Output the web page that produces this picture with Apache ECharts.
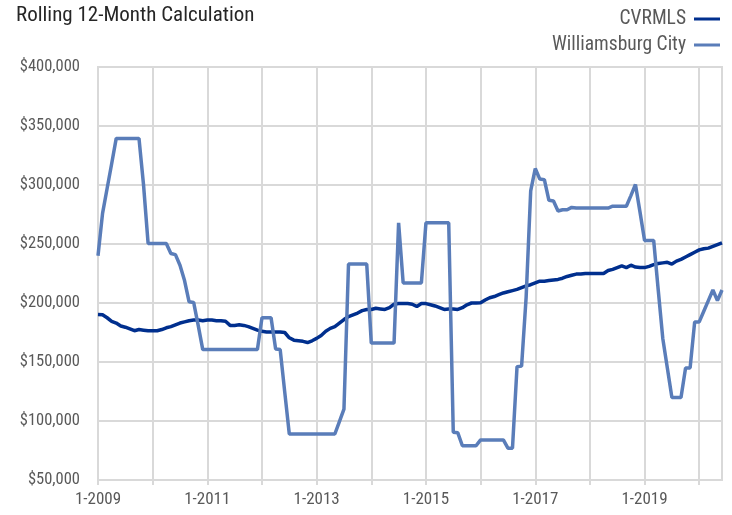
<!DOCTYPE html>
<html>
<head>
<meta charset="utf-8">
<script src="https://cdn.jsdelivr.net/npm/echarts@6/dist/echarts.min.js"></script>
<style>
  html, body { margin: 0; padding: 0; background: #fff; }
  #chart { width: 732px; height: 515px; }
</style>
</head>
<body>
<div id="chart"></div>
<script>
// monthly, Jan 2009 .. Jun 2020
const startYear = 2009;
const monthCount = 138;

// values in thousands of dollars
const cvrmls = [
  190.2, 190, 187.5, 184.5, 183, 180.5, 179.5, 178, 176.5, 177.5, 177, 176.5,
  176.5, 176.5, 177.5, 179, 180, 181.5, 183, 184, 185, 185.5, 185.5, 185,
  185.5, 185.5, 185, 185, 184.5, 181, 181, 181.5, 181, 180, 178.5, 177,
  176, 175.5, 175.5, 175.5, 175.5, 175, 170.5, 168.5, 168, 167.5, 166.5, 168,
  170, 172.5, 176, 178.5, 180, 183, 186, 188.5, 190, 191.5, 193.5, 194.5,
  194.5, 195.5, 195, 194.5, 196, 199, 199.5, 199.5, 199.5, 199, 197, 199.5,
  199.5, 198.5, 197.5, 196, 194.5, 195, 195, 194.5, 196, 198.5, 200, 200,
  200.2, 202.5, 204.5, 205.5, 207, 208.5, 209.5, 210.5, 211.5, 213, 214.5, 215.5,
  217, 218.5, 218.5, 219, 219.5, 220, 221, 222.5, 223.5, 224.5, 224.5, 225,
  225, 225, 225, 225, 227.5, 228.5, 230, 231.5, 230, 232, 230.5, 230,
  230, 231, 232.5, 233.5, 234, 234.5, 233, 235.5, 237, 239, 241, 243,
  245, 246, 246.5, 248, 249.5, 251
];

const williamsburg = [
  240, 276, 297, 318, 339.5, 339.5, 339.5, 339.5, 339.5, 339.5, 300, 250.5,
  250.5, 250.5, 250.5, 250.5, 242, 241, 232, 219, 201, 200.5, 181, 160.5,
  160.5, 160.5, 160.5, 160.5, 160.5, 160.5, 160.5, 160.5, 160.5, 160.5, 160.5, 160.5,
  187.5, 187.5, 187.5, 161, 160.5, 124.5, 89, 89, 89, 89, 89, 89,
  89, 89, 89, 89, 89, 99.5, 110, 233, 233, 233, 233, 233,
  166, 166, 166, 166, 166, 166, 268, 217, 217, 217, 217, 217,
  268, 268, 268, 268, 268, 268, 90.5, 90, 79, 79, 79, 79,
  84, 84, 84, 84, 84, 84, 77, 77, 146, 146.5, 205, 295,
  314, 305, 304.5, 287, 286.5, 278, 279, 279, 281, 280.5, 280.5, 280.5,
  280.5, 280.5, 280.5, 280.5, 280.5, 282, 282, 282, 282, 291, 300.5, 277,
  253, 253, 253, 211, 170, 145, 120, 120, 120, 145, 145, 184,
  184, 193, 202, 211, 202, 211
];

const yTicks = [50000, 100000, 150000, 200000, 250000, 300000, 350000, 400000];

const categories = [];
for (let i = 0; i < monthCount; i++) {
  const y = startYear + Math.floor(i / 12);
  categories.push((i % 12 + 1) + '-' + y);
}

const font = "'Liberation Sans Narrow', 'Roboto Condensed', 'Roboto', sans-serif";
const gridColor = '#d9d9d9';

const chart = echarts.init(document.getElementById('chart'));
chart.setOption({
  backgroundColor: '#fff',
  animation: false,
  title: {
    text: 'Rolling 12-Month Calculation',
    left: 11,
    top: 0,
    textStyle: { fontFamily: font, fontSize: 21, fontWeight: 'normal', color: '#262626' }
  },
  legend: {
    orient: 'vertical',
    right: 7,
    top: 4,
    align: 'right',
    itemGap: 6,
    itemWidth: 26,
    itemHeight: 3,
    icon: 'rect',
    textStyle: { fontFamily: font, fontSize: 19.5, color: '#595959', padding: [0, 3, 0, 0] },
    data: ['CVRMLS', 'Williamsburg City']
  },
  grid: {
    left: 98,
    right: 10,
    top: 67,
    bottom: 35,
    show: true,
    borderColor: gridColor,
    borderWidth: 2
  },
  xAxis: {
    type: 'category',
    boundaryGap: false,
    data: categories,
    axisLine: { lineStyle: { color: gridColor, width: 2 } },
    axisTick: {
      show: true,
      length: 5,
      interval: function (i) { return i % 12 === 0; },
      lineStyle: { color: gridColor, width: 2 }
    },
    splitLine: {
      show: true,
      interval: function (i) { return i % 12 === 0; },
      lineStyle: { color: gridColor, width: 2 }
    },
    axisLabel: {
      interval: function (i) { return i % 24 === 0; },
      margin: 11,
      fontFamily: font,
      fontSize: 17,
      color: '#595959'
    }
  },
  yAxis: {
    type: 'value',
    min: yTicks[0],
    max: yTicks[yTicks.length - 1],
    interval: 50000,
    axisLine: { show: false },
    axisTick: { show: false },
    splitLine: { lineStyle: { color: gridColor, width: 2 } },
    axisLabel: {
      margin: 18,
      fontFamily: font,
      fontSize: 16.5,
      color: '#595959',
      formatter: function (v) { return '$' + v.toLocaleString('en-US'); }
    }
  },
  series: [
    {
      name: 'CVRMLS',
      type: 'line',
      symbol: 'none',
      itemStyle: { color: '#002f8e' },
      lineStyle: { color: '#002f8e', width: 3.5 },
      data: cvrmls.map(v => v * 1000)
    },
    {
      name: 'Williamsburg City',
      type: 'line',
      symbol: 'none',
      itemStyle: { color: '#5a7db9' },
      lineStyle: { color: '#5a7db9', width: 3.5 },
      data: williamsburg.map(v => v * 1000)
    }
  ]
});
</script>
</body>
</html>
